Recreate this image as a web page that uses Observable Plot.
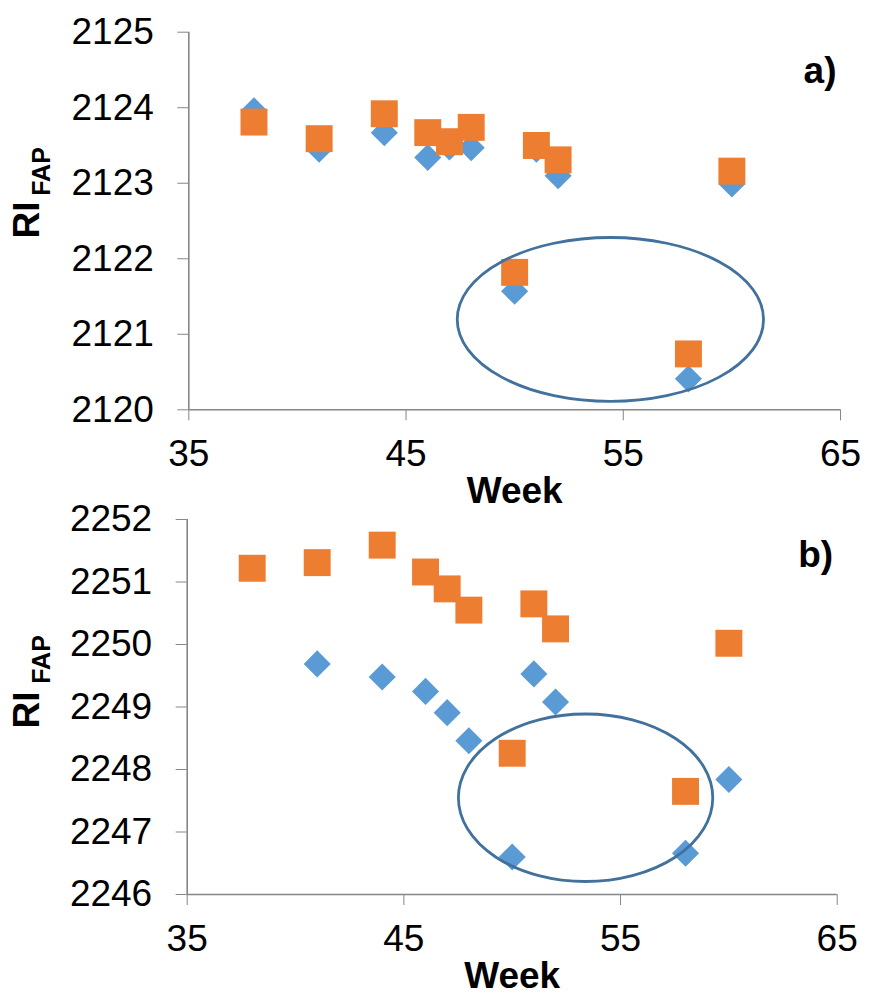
<!DOCTYPE html>
<html>
<head>
<meta charset="utf-8">
<script src="https://cdn.jsdelivr.net/npm/d3@7"></script>
<script src="https://cdn.jsdelivr.net/npm/@observablehq/plot@0.6"></script>
<style>
  html, body { margin: 0; padding: 0; background: #fff; }
  #chart svg { display: block; overflow: visible; }
  #chart svg text { fill: #000; }
</style>
</head>
<body>
<div id="chart"></div>
<script>
// ---- data ----
const weeksA = [38, 41, 44, 46, 47, 48, 50, 51, 52, 58, 60];
const blueA   = [2123.96, 2123.45, 2123.67, 2123.34, 2123.48, 2123.47, 2121.57, 2123.45, 2123.10, 2120.41, 2122.99];
const orangeA = [2123.81, 2123.59, 2123.92, 2123.67, 2123.55, 2123.74, 2121.82, 2123.50, 2123.31, 2120.74, 2123.16];

const weeksBlueB   = [41, 44, 46, 47, 48, 50, 51, 52, 58, 60];
const blueB        = [2249.69, 2249.48, 2249.25, 2248.91, 2248.46, 2246.60, 2249.53, 2249.08, 2246.66, 2247.84];
const weeksOrangeB = [38, 41, 44, 46, 47, 48, 50, 51, 52, 58, 60];
const orangeB      = [2251.22, 2251.31, 2251.59, 2251.16, 2250.89, 2250.55, 2248.26, 2250.65, 2250.25, 2247.65, 2250.02];

// ellipse annotations: [center week, center RI, radius in weeks, radius in RI]
const ellipseA = [54.43, 2121.19, 7.05, 1.085];
const ellipseB = [53.41, 2247.54, 5.87, 1.34];

const xTicks = [35, 45, 55, 65];
const yTicksA = [2120, 2121, 2122, 2123, 2124, 2125];
const yTicksB = [2246, 2247, 2248, 2249, 2250, 2251, 2252];
const panelLabels = ["a)", "b)"];
const xTitle = "Week";
const yTitleMain = "RI";
const yTitleSub = "FAP";

// ---- styling ----
const BLUE = "#5B9BD5", ORANGE = "#ED7D31", RING = "#41719C", AXIS = "#868686";
const FONT = "'Liberation Sans', Arial, Helvetica, sans-serif";

function ellipseMark(params) {
  return function (...args) {
    const scales = args.find(a => a && typeof a.x === "function" && typeof a.y === "function");
    const [cx, cy, rx, ry] = params;
    const px = scales.x(cx), py = scales.y(cy);
    const prx = Math.abs(scales.x(cx + rx) - px), pry = Math.abs(scales.y(cy + ry) - py);
    const ns = "http://www.w3.org/2000/svg";
    const e = document.createElementNS(ns, "ellipse");
    e.setAttribute("cx", px); e.setAttribute("cy", py);
    e.setAttribute("rx", prx); e.setAttribute("ry", pry);
    e.setAttribute("fill", "none");
    e.setAttribute("stroke", RING);
    e.setAttribute("stroke-width", 2.8);
    return e;
  };
}

function panel({height, mt, mb, ml, mr, yDomain, yTicks, blue, orange, ellipse, label, labelDy, riDx, riDy, subDx, subDy}) {
  return Plot.plot({
    width: 869,
    height,
    marginTop: mt, marginBottom: mb, marginLeft: ml, marginRight: mr,
    style: {fontFamily: FONT, fontSize: "37px", color: AXIS, background: "#fff", overflow: "visible"},
    x: {domain: [35, 65], ticks: xTicks, tickSize: 11, tickPadding: 19, tickFormat: d => String(d), label: null},
    y: {domain: yDomain, ticks: yTicks, tickSize: 11, tickPadding: 24, tickFormat: d => String(d), label: null},
    marks: [
      Plot.ruleX([35], {stroke: AXIS, strokeWidth: 1.6}),
      Plot.ruleY([yDomain[0]], {stroke: AXIS, strokeWidth: 1.6}),
      Plot.dot(blue, {x: "week", y: "ri", symbol: "diamond2", r: 12.2, fill: BLUE}),
      Plot.dot(orange, {x: "week", y: "ri", symbol: "square", r: 15.2, fill: ORANGE}),
      ellipseMark(ellipse),
      Plot.text([xTitle], {frameAnchor: "bottom", textAnchor: "middle", lineAnchor: "bottom", dy: 93, fontSize: 37, fontWeight: "bold"}),
      Plot.text([label], {frameAnchor: "top-right", textAnchor: "end", lineAnchor: "bottom", dx: -4, dy: labelDy, fontSize: 37, fontWeight: "bold"}),
      Plot.text([yTitleMain], {frameAnchor: "left", rotate: -90, textAnchor: "middle", lineAnchor: "middle", dx: riDx, dy: riDy, fontSize: 37, fontWeight: "bold"}),
      Plot.text([yTitleSub], {frameAnchor: "left", rotate: -90, textAnchor: "middle", lineAnchor: "middle", dx: subDx, dy: subDy, fontSize: 25, fontWeight: "bold"})
    ]
  });
}

const dataA_blue = weeksA.map((w, i) => ({week: w, ri: blueA[i]}));
const dataA_orange = weeksA.map((w, i) => ({week: w, ri: orangeA[i]}));
const dataB_blue = weeksBlueB.map((w, i) => ({week: w, ri: blueB[i]}));
const dataB_orange = weeksOrangeB.map((w, i) => ({week: w, ri: orangeB[i]}));

// frame middle y: panel a = (31.7 + 409.3)/2 = 220.5; panel b = (14 + 389)/2 = 201.5
const chartA = panel({
  height: 505, mt: 31.7, mb: 505 - 409.3, ml: 188.3, mr: 29,
  yDomain: [2120, 2125], yTicks: yTicksA,
  blue: dataA_blue, orange: dataA_orange, ellipse: ellipseA,
  label: panelLabels[0], labelDy: 51,
  riDx: 27 - 188.3, riDy: 219.5 - 220.5, subDx: 41.5 - 188.3, subDy: 171 - 220.5
});
const chartB = panel({
  height: 500, mt: 14, mb: 500 - 389, ml: 186.7, mr: 32.3,
  yDomain: [2246, 2252], yTicks: yTicksB,
  blue: dataB_blue, orange: dataB_orange, ellipse: ellipseB,
  label: panelLabels[1], labelDy: 47,
  riDx: 27 - 186.7, riDy: (709.5 - 505) - 201.5, subDx: 41.5 - 186.7, subDy: (659 - 505) - 201.5
});

const root = document.getElementById("chart");
root.appendChild(chartA);
root.appendChild(chartB);
</script>
</body>
</html>
